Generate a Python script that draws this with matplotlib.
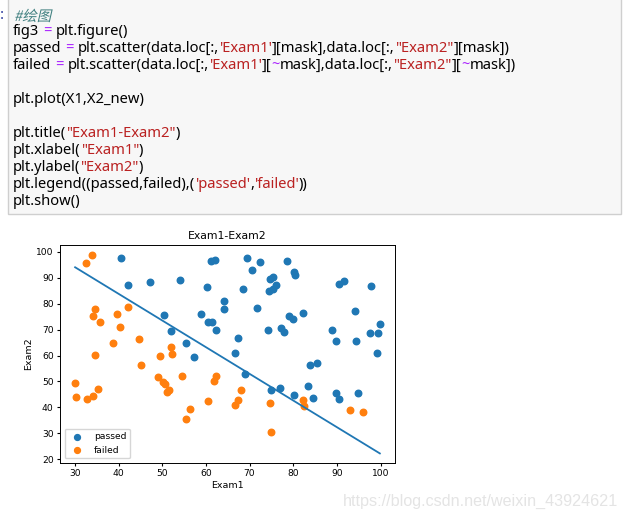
import matplotlib
matplotlib.use("Agg")
import matplotlib.pyplot as plt
from matplotlib.patches import Rectangle, PathPatch
from matplotlib.text import Annotation
from matplotlib.textpath import TextPath
from matplotlib.font_manager import FontProperties
from matplotlib.transforms import Affine2D, IdentityTransform

# ex2data1 scores
exam1 = [34.62, 30.29, 35.85, 60.18, 79.03, 45.08, 61.11, 75.02, 76.10, 84.43,
         95.86, 75.01, 82.31, 69.36, 39.54, 53.97, 69.07, 67.95, 70.66, 76.98,
         67.37, 89.68, 50.53, 34.21, 77.92, 62.27, 80.19, 93.11, 61.83, 38.79,
         61.38, 85.40, 52.11, 52.05, 40.24, 54.64, 33.92, 64.18, 74.79, 34.18,
         83.90, 51.55, 94.44, 82.37, 51.05, 62.22, 77.19, 97.77, 62.07, 91.56,
         79.94, 99.27, 90.55, 34.52, 50.29, 49.59, 97.65, 32.58, 74.25, 71.80,
         75.40, 35.29, 56.25, 30.06, 44.67, 66.56, 40.46, 49.07, 80.28, 66.75,
         32.72, 64.04, 72.35, 60.46, 58.84, 99.83, 47.26, 50.46, 60.46, 82.23,
         88.91, 94.83, 67.32, 57.24, 80.37, 68.47, 42.08, 75.48, 78.64, 52.35,
         94.09, 90.45, 55.48, 74.49, 89.85, 83.49, 42.26, 99.32, 55.34, 74.78]
exam2 = [78.02, 43.89, 72.90, 86.31, 75.34, 56.32, 96.51, 46.55, 87.42, 43.53,
         38.23, 30.60, 76.48, 97.72, 76.04, 89.21, 52.74, 46.68, 92.93, 47.58,
         42.84, 65.80, 48.86, 44.21, 68.97, 69.95, 44.82, 38.80, 50.26, 65.00,
         72.81, 57.05, 63.13, 69.43, 71.17, 52.21, 98.87, 80.91, 41.57, 75.24,
         56.31, 46.86, 65.57, 40.62, 45.82, 52.06, 70.46, 86.73, 96.77, 88.70,
         74.16, 61.00, 43.39, 60.40, 49.80, 59.81, 68.86, 95.60, 69.82, 78.45,
         85.76, 47.02, 39.26, 49.59, 66.45, 41.09, 97.54, 51.88, 92.12, 60.99,
         43.31, 78.03, 96.23, 73.09, 75.86, 72.37, 88.48, 75.81, 42.51, 42.72,
         69.80, 45.69, 66.59, 59.51, 90.96, 85.59, 78.84, 90.42, 96.65, 60.77,
         77.16, 87.51, 35.57, 84.85, 45.36, 48.38, 87.10, 68.78, 64.93, 89.53]
passed_flag = [0, 0, 0, 1, 1, 0, 1, 1, 1, 1, 0, 0, 1, 1, 0, 1, 1, 0, 1, 1,
               0, 1, 0, 0, 1, 1, 1, 0, 0, 0, 1, 1, 0, 1, 0, 0, 0, 1, 0, 0,
               1, 0, 1, 0, 0, 0, 1, 1, 1, 1, 1, 1, 1, 0, 0, 0, 1, 0, 1, 1,
               1, 0, 0, 0, 0, 0, 1, 0, 1, 1, 0, 1, 1, 1, 1, 1, 1, 1, 0, 0,
               1, 1, 1, 1, 1, 1, 0, 1, 1, 0, 1, 1, 0, 1, 1, 1, 1, 1, 1, 1]

# decision boundary endpoints
X1 = [30.06, 99.83]
X2_new = [94.1, 22.2]

# code cell: one list of (text, kind) per line; a leading space in a segment = a gap
comment = "#绘图"
code_lines = [
    [],
    [("fig3", "plain"), (" =", "op"), (" plt.figure()", "plain")],
    [("passed", "plain"), (" =", "op"), (" plt.scatter(data.loc[:,", "plain"), ("'Exam1'", "str"),
     ("][mask],data.loc[:,", "plain"), ('"Exam2"', "str"), ("][mask])", "plain")],
    [("failed", "plain"), (" =", "op"), (" plt.scatter(data.loc[:,", "plain"), ("'Exam1'", "str"),
     ("][", "plain"), ("~", "op"), ("mask],data.loc[:,", "plain"), ('"Exam2"', "str"),
     ("][", "plain"), ("~", "op"), ("mask])", "plain")],
    [],
    [("plt.plot(X1,X2_new)", "plain")],
    [],
    [("plt.title(", "plain"), ('"Exam1-Exam2"', "str"), (")", "plain")],
    [("plt.xlabel(", "plain"), ('"Exam1"', "str"), (")", "plain")],
    [("plt.ylabel(", "plain"), ('"Exam2"', "str"), (")", "plain")],
    [("plt.legend((passed,failed),(", "plain"), ("'passed'", "str"), (",", "plain"),
     ("'failed'", "str"), ("))", "plain")],
    [("plt.show()", "plain")],
]
colors = {"plain": "#000000", "op": "#aa22ff", "str": "#ba2121", "comment": "#408080"}
code_family = ["Noto Sans", "Noto Sans CJK SC", "DejaVu Sans"]
code_size = 10.6

W, H = 625, 518
fig = plt.figure(figsize=(W / 100, H / 100), dpi=100)

# ── code cell ──
fig.patches.append(Rectangle((8 / W, 1 - 214 / H), 613 / W, 216 / H, transform=fig.transFigure,
                             facecolor="#f7f7f7", edgecolor="#cfcfcf", lw=1))
fig.text(0, 1 - 19 / H, ":", color="#303f9f", fontsize=11, va="baseline", family=code_family)

# italic comment: skewed text path (CJK font has no italic face)
tp = TextPath((0, 0), comment, size=10.5, prop=FontProperties(family="Noto Sans CJK SC"))
tr = Affine2D().skew_deg(13, 0).scale(100 / 72).translate(14, H - 21)
fig.patches.append(PathPatch(tr.transform_path(tp), transform=IdentityTransform(),
                             facecolor=colors["comment"], edgecolor="none"))

for i, line in enumerate(code_lines):
    y = 1 - (22 + 17 * i) / H
    last = None
    for seg, kind in line:
        kw = dict(color=colors[kind], fontsize=code_size, family=code_family, va="bottom", ha="left")
        if last is None:
            last = fig.text(13 / W, y, seg, **kw)
        else:
            gap = 4 if seg.startswith(" ") else 0
            last = fig.add_artist(Annotation(seg.lstrip(" "), xy=(1, 0), xycoords=last,
                                             xytext=(gap, 0), textcoords="offset pixels", **kw))

# ── chart ──
ax = fig.add_axes([60 / W, 1 - 463 / H, 335 / W, 218 / H])
x_pass = [x for x, f in zip(exam1, passed_flag) if f]
y_pass = [y for y, f in zip(exam2, passed_flag) if f]
x_fail = [x for x, f in zip(exam1, passed_flag) if not f]
y_fail = [y for y, f in zip(exam2, passed_flag) if not f]
passed = ax.scatter(x_pass, y_pass, s=22)
failed = ax.scatter(x_fail, y_fail, s=22)
ax.plot(X1, X2_new, lw=1.3)
ax.set_xlim(26.6, 103.3)
ax.set_ylim(18.5, 102.7)
ax.set_title("Exam1-Exam2", fontsize=7.8, pad=4)
ax.set_xlabel("Exam1", fontsize=6.8, labelpad=2)
ax.set_ylabel("Exam2", fontsize=6.8, labelpad=2)
ax.tick_params(labelsize=6.6, length=2.5, pad=2)
for s in ax.spines.values():
    s.set_linewidth(0.7)
ax.legend((passed, failed), ("passed", "failed"), loc="lower left", fontsize=6.6, markerscale=0.9)

fig.text(618 / W, 1 - 506 / H, "https://blog.csdn.net/weixin_43924621", ha="right", va="baseline",
         color="#e4e4e4", fontsize=11.6, family=["Liberation Sans", "DejaVu Sans"])

fig.savefig("out.png", dpi=100)
